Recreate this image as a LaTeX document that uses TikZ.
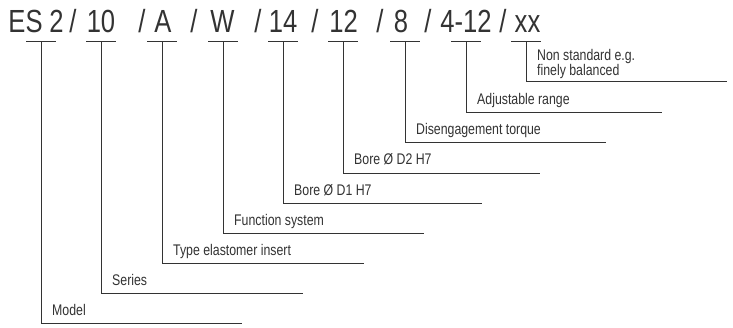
\documentclass[tikz,border=0pt]{standalone}
\usepackage{fontspec}
\newfontfamily\cond[FakeStretch=0.8]{Liberation Sans}
\definecolor{ink}{HTML}{333333}
\begin{document}
\begin{tikzpicture}[x=1pt,y=-1pt,
  code/.style={anchor=base,inner sep=0,font=\cond\fontsize{32}{32}\selectfont,text=ink},
  lab/.style={anchor=base west,inner sep=0,font=\cond\fontsize{15.4}{13}\selectfont,text=ink},
  brk/.style={draw=ink,line width=0.9pt}]
\useasboundingbox[fill=white] (0,0) rectangle (733,327);
% code string
\node[code] (es) at (25.5,32) {ES};
\node[code] (n2) at (56.5,32) {2};
\node[code] (s1) at (73,32) {/};
\node[code] (n10) at (101,32) {10};
\node[code] (s2) at (142,32) {/};
\node[code] (nA) at (163,32) {A};
\node[code] (s3) at (194,32) {/};
\node[code] (nW) at (222.5,32) {W};
\node[code] (s4) at (258,32) {/};
\node[code] (n14) at (283,32) {14};
\node[code] (s5) at (315,32) {/};
\node[code] (n12) at (343.5,32) {12};
\node[code] (s6) at (380,32) {/};
\node[code] (n8) at (401,32) {8};
\node[code] (s7) at (428,32) {/};
\node[code] (n412) at (466,32) {4-12};
\node[code] (s8) at (503,32) {/};
\node[code] (nxx) at (527.5,32) {xx};
% brackets
\foreach \i/\x/\y/\e in {1/41/323/242, 2/101/293/303, 3/162/263/364, 4/223/233/424,
  5/283/203/482, 6/343/173/540, 7/405/142/606, 8/466/112/662, 9/526/81/727}{
  \coordinate (ul\i) at (\x-15,41.5);
  \coordinate (ur\i) at (\x+15,41.5);
  \coordinate (t\i) at (\x,41.5);
  \coordinate (c\i) at (\x,\y);
  \coordinate (e\i) at (\e,\y);
  \draw[brk] (ul\i) -- (ur\i);
  \draw[brk] (t\i) -- (c\i) -- (e\i);
}
% labels
\node[lab] (l1) at (52,315) {Model};
\node[lab] (l2) at (112,285) {Series};
\node[lab] (l3) at (173,255) {Type elastomer insert};
\node[lab] (l4) at (234,225) {Function system};
\node[lab] (l5) at (294,195) {Bore Ø D1 H7};
\node[lab] (l6) at (354,164.5) {Bore Ø D2 H7};
\node[lab] (l7) at (416,134) {Disengagement torque};
\node[lab] (l8) at (477,104) {Adjustable range};
\node[lab,anchor=south west,align=left] (l9) at (537,79.3) {Non standard e.g.\\finely balanced};
\end{tikzpicture}
\end{document}
